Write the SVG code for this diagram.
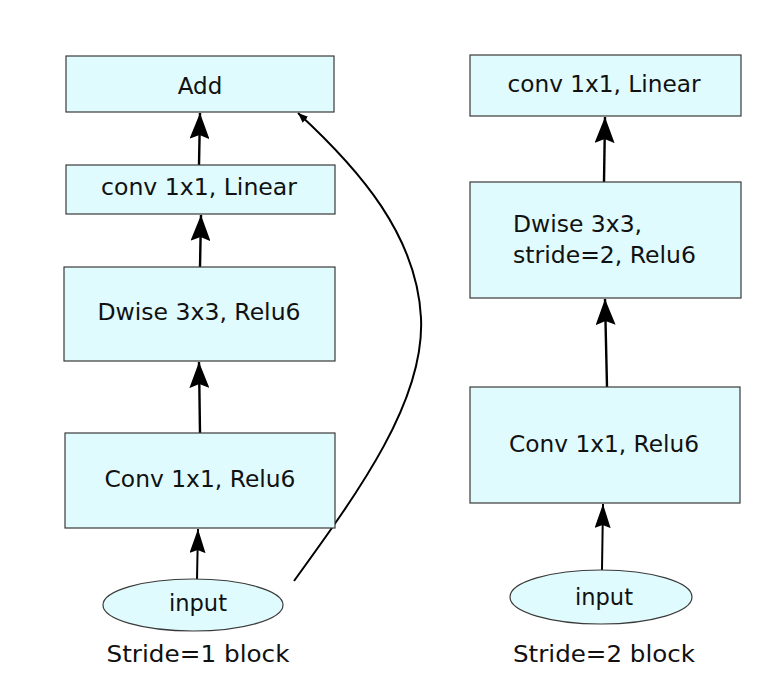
<svg xmlns="http://www.w3.org/2000/svg" width="773" height="700" viewBox="0 0 773 700">
<style>
.box{fill:#e0fbfd;stroke:#3a3a3a;stroke-width:1.2}
.t{font-family:"DejaVu Sans",sans-serif;fill:#111;font-size:23px}
.e{stroke:#000;stroke-width:2.4;fill:none}
.es{stroke:#000;stroke-width:2;fill:none}
</style>
<defs>
<marker id="big" viewBox="0 0 26 20" refX="26" refY="10" markerWidth="26" markerHeight="20" markerUnits="userSpaceOnUse" orient="auto"><path d="M0,0 L26,10 L0,20 L4,10 z" fill="#000"/></marker>
<marker id="small" viewBox="0 0 24 16" refX="24" refY="8" markerWidth="24" markerHeight="16" markerUnits="userSpaceOnUse" orient="auto"><path d="M0,0 L24,8 L0,16 L3,8 z" fill="#000"/></marker>
<marker id="tiny" viewBox="0 0 10 8" refX="10" refY="4" markerWidth="10" markerHeight="8" markerUnits="userSpaceOnUse" orient="auto"><path d="M0,0 L10,4 L0,8 z" fill="#000"/></marker>
</defs>
<rect width="773" height="700" fill="#fff"/>
<g id="connectors">
<line class="es" x1="197" y1="579" x2="198" y2="529" marker-end="url(#small)"/>
<line class="e" x1="200" y1="433" x2="199" y2="362" marker-end="url(#big)"/>
<line class="e" x1="200" y1="267" x2="201" y2="215" marker-end="url(#big)"/>
<line class="e" x1="199" y1="165" x2="200" y2="113" marker-end="url(#big)"/>
<path class="es" d="M294,581 C360,490 425,400 421,318 C417,236 360,170 298,113" marker-end="url(#tiny)"/>
<line class="es" x1="602" y1="570" x2="603" y2="504" marker-end="url(#small)"/>
<line class="e" x1="607" y1="387" x2="605" y2="299" marker-end="url(#big)"/>
<line class="e" x1="604" y1="182" x2="605" y2="117" marker-end="url(#big)"/>
</g>
<g id="add"><rect class="box" x="66" y="56" width="268" height="56"/><text class="t" x="200" y="94" text-anchor="middle">Add</text></g>
<g id="linear1"><rect class="box" x="66" y="165" width="269" height="49"/><text class="t" x="199" y="195" text-anchor="middle" font-size="20" textLength="196" lengthAdjust="spacingAndGlyphs">conv 1x1, Linear</text></g>
<g id="dwise1"><rect class="box" x="64" y="267" width="271" height="94"/><text class="t" x="199" y="320" text-anchor="middle" textLength="203" lengthAdjust="spacingAndGlyphs">Dwise 3x3, Relu6</text></g>
<g id="conv1"><rect class="box" x="65" y="433" width="270" height="95"/><text class="t" x="200" y="487" text-anchor="middle" textLength="191" lengthAdjust="spacingAndGlyphs">Conv 1x1, Relu6</text></g>
<g id="input1"><ellipse class="box" cx="193" cy="605" rx="90" ry="26"/><text class="t" x="198" y="611" text-anchor="middle" font-size="21" textLength="58" lengthAdjust="spacingAndGlyphs">input</text></g>
<text class="t" x="198" y="662" text-anchor="middle" font-size="24" textLength="183" lengthAdjust="spacingAndGlyphs">Stride=1 block</text>
<g id="linear2"><rect class="box" x="470" y="55" width="271" height="61"/><text class="t" x="604" y="92" text-anchor="middle" textLength="193" lengthAdjust="spacingAndGlyphs">conv 1x1, Linear</text></g>
<g id="dwise2"><rect class="box" x="470" y="182" width="271" height="116"/><text class="t" x="513" y="232" textLength="129" lengthAdjust="spacingAndGlyphs">Dwise 3x3,</text><text class="t" x="513" y="263" textLength="183" lengthAdjust="spacingAndGlyphs">stride=2, Relu6</text></g>
<g id="conv2"><rect class="box" x="470" y="387" width="270" height="116"/><text class="t" x="604" y="452" text-anchor="middle" textLength="190" lengthAdjust="spacingAndGlyphs">Conv 1x1, Relu6</text></g>
<g id="input2"><ellipse class="box" cx="601" cy="597" rx="91" ry="27"/><text class="t" x="604" y="605" text-anchor="middle" textLength="58" lengthAdjust="spacingAndGlyphs">input</text></g>
<text class="t" x="604" y="662" text-anchor="middle" font-size="24" textLength="182" lengthAdjust="spacingAndGlyphs">Stride=2 block</text>
</svg>
